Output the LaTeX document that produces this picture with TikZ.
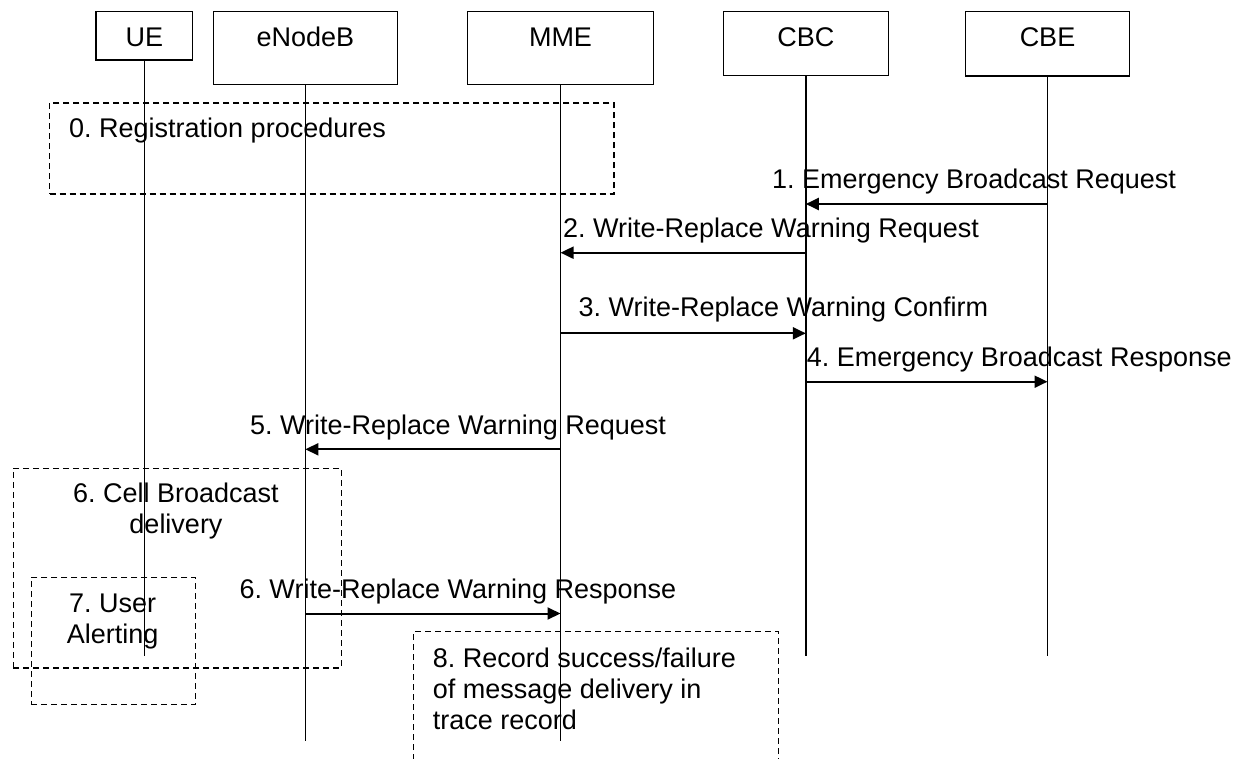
\documentclass[tikz,border=0pt]{standalone}
\usepackage{fontspec}
\setmainfont{Liberation Sans}
\usetikzlibrary{arrows.meta}
\begin{document}
\frenchspacing
\begin{tikzpicture}[x=1pt,y=-1pt,
  every node/.style={font=\fontsize{27pt}{31pt}\selectfont\frenchspacing, inner sep=0pt},
  entity/.style={draw, line width=1.3pt, anchor=north, text height=35pt},
  life/.style={line width=1.4pt},
  msg/.style={line width=2pt, -{Triangle[length=13pt,width=12pt]}},
  dashline/.style={dashed, dash pattern=on 6pt off 4pt, line width=1.3pt},
  dbox/.style={draw, dashline, anchor=north west},
  lbl/.style={anchor=base west},
  note/.style={align=center, anchor=base},
]
\useasboundingbox (0,0) rectangle (1240,758);

% entities
\node[entity, minimum width=96.7pt, text depth=13.6pt] (ue) at (144.35,10.7) {UE};
\node[entity, minimum width=184.1pt, text depth=38.3pt] (enb) at (305.35,10.7) {eNodeB};
\node[entity, minimum width=185.6pt, text depth=38.3pt] (mme) at (560.5,10.7) {MME};
\node[entity, minimum width=165pt, text depth=29.3pt] (cbc) at (805.8,10.7) {CBC};
\node[entity, minimum width=163.6pt, text depth=29.6pt] (cbe) at (1047.5,10.7) {CBE};

% lifeline ends
\coordinate (ueend) at (ue.south |- 0,656);
\coordinate (enbend) at (enb.south |- 0,740.7);
\coordinate (mmeend) at (mme.south |- 0,740.7);
\coordinate (cbcend) at (cbc.south |- 0,656);
\coordinate (cbeend) at (cbe.south |- 0,656);

\draw[life] (ue.south) -- (ueend);
\draw[life] (enb.south) -- (enbend);
\draw[life] (mme.south) -- (mmeend);
\draw[life] (cbc.south) -- (cbcend);
\draw[life] (cbe.south) -- (cbeend);

% dashed boxes
\node[dbox, minimum width=564.3pt, minimum height=91pt] (reg) at (49,102.3) {};
\node[lbl] (regt) at (69,137.5) {0. Registration procedures};

\node[dbox, minimum width=328pt, minimum height=199.8pt] (cbd) at (12.7,467.5) {};
\node[note] (cbdt) at (176,533.3) {6. Cell Broadcast\\delivery};

\node[dbox, minimum width=164.3pt, minimum height=127.3pt] (ua) at (30.7,576.7) {};
\node[note] (uat) at (112.7,643.3) {7. User\\Alerting};

\coordinate (recA) at (413.3,770);
\coordinate (recB) at (413.3,631.7);
\coordinate (recC) at (778.3,631.7);
\coordinate (recD) at (778.3,770);
\draw[dashline] (recA) -- (recB) -- (recC) -- (recD);
\node[align=left, anchor=base west] (rect) at (432.7,729) {8. Record success/failure\\of message delivery in\\trace record};

% messages
\draw[msg] (cbe.south |- 0,204) -- (cbc.south |- 0,204);
\node[lbl] (m1) at (772,188.3) {1. Emergency Broadcast Request};

\draw[msg] (cbc.south |- 0,252.7) -- (mme.south |- 0,252.7);
\node[lbl] (m2) at (563,237.5) {2. Write-Replace Warning Request};

\draw[msg] (mme.south |- 0,333.3) -- (cbc.south |- 0,333.3);
\node[lbl] (m3) at (578.3,316.7) {3. Write-Replace Warning Confirm};

\draw[msg] (cbc.south |- 0,381.7) -- (cbe.south |- 0,381.7);
\node[lbl] (m4) at (806.7,366) {4. Emergency Broadcast Response};

\draw[msg] (mme.south |- 0,449.3) -- (enb.south |- 0,449.3);
\node[lbl] (m5) at (250,434) {5. Write-Replace Warning Request};

\draw[msg] (enb.south |- 0,613.5) -- (mme.south |- 0,613.5);
\node[lbl] (m6) at (239.3,598.3) {6. Write-Replace Warning Response};
\end{tikzpicture}
\end{document}
